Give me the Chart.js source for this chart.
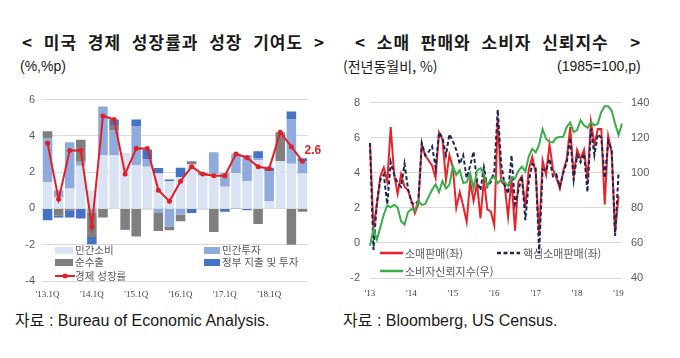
<!DOCTYPE html>
<html lang="ko">
<head>
<meta charset="utf-8">
<script src="https://cdn.jsdelivr.net/npm/chart.js@4.4.1/dist/chart.umd.min.js"></script>
<style>
  body { margin:0; width:680px; height:358px; background:#fff; position:relative; overflow:hidden;
         font-family:'Noto Sans CJK KR', sans-serif; color:#1a1a1a; }
  .abs { position:absolute; white-space:pre; }
  .title { font-size:17px; font-weight:bold; line-height:20px; letter-spacing:1px; word-spacing:5px; }
  .sub { font-size:14px; line-height:18px; }
  .src { font-size:16px; line-height:20px; font-family:'Liberation Sans','Noto Sans CJK KR',sans-serif; }
  .lg { font-size:10.5px; line-height:12px; color:#595959; }
  .sw { position:absolute; }
  canvas { position:absolute; }
</style>
</head>
<body>

<div class="abs title" style="left:22px;top:32px;">&lt; 미국 경제 성장률과 성장 기여도 &gt;</div>
<div class="abs sub" style="left:20px;top:57px;font-family:'Liberation Sans',sans-serif;">(%,%p)</div>

<div class="abs title" style="left:355px;top:32px;">&lt; 소매 판매와 소비자 신뢰지수  &gt;</div>
<div class="abs sub" style="left:343px;top:57px;">(전년동월비, %)</div>
<div class="abs sub" style="left:557px;top:57px;font-family:'Liberation Sans',sans-serif;">(1985=100,p)</div>

<canvas id="gdpChart" width="330" height="217" style="left:0;top:86px;"></canvas>
<canvas id="retailChart" width="320" height="214" style="left:335px;top:86px;"></canvas>

<!-- left legend -->
<div class="sw" style="left:55px;top:247px;width:18px;height:7px;background:#dae3f3;"></div>
<div class="abs lg" style="left:75px;top:244px;">민간소비</div>
<div class="sw" style="left:55px;top:259px;width:18px;height:7px;background:#7f7f7f;"></div>
<div class="abs lg" style="left:75px;top:256px;">순수출</div>
<svg class="sw" style="left:55px;top:271px;" width="20" height="10"><line x1="0" y1="5" x2="20" y2="5" stroke="#e31e24" stroke-width="2"/><circle cx="10" cy="5" r="2.5" fill="#e31e24"/></svg>
<div class="abs lg" style="left:75px;top:270px;">경제 성장률</div>
<div class="sw" style="left:204px;top:247px;width:16px;height:7px;background:#8faadc;"></div>
<div class="abs lg" style="left:222px;top:244px;">민간투자</div>
<div class="sw" style="left:204px;top:259px;width:16px;height:7px;background:#4472c4;"></div>
<div class="abs lg" style="left:222px;top:256px;">정부 지출 및 투자</div>

<!-- right legend -->
<svg class="sw" style="left:380px;top:248px;" width="24" height="10"><line x1="0" y1="5" x2="23" y2="5" stroke="#e8232a" stroke-width="2.5"/></svg>
<div class="abs lg" style="left:405px;top:247px;font-size:11px;">소매판매(좌)</div>
<svg class="sw" style="left:497px;top:248px;" width="24" height="10"><line x1="0" y1="5" x2="23" y2="5" stroke="#1b2656" stroke-width="2.5" stroke-dasharray="4,2.5"/></svg>
<div class="abs lg" style="left:523px;top:247px;font-size:11px;">핵심소매판매(좌)</div>
<svg class="sw" style="left:380px;top:266px;" width="24" height="10"><line x1="0" y1="5" x2="23" y2="5" stroke="#3aad4a" stroke-width="2.5"/></svg>
<div class="abs lg" style="left:405px;top:265px;font-size:11px;">소비자신뢰지수(우)</div>

<div class="abs src" style="left:15px;top:311px;">자료 : Bureau of Economic Analysis.</div>
<div class="abs src" style="left:343px;top:311px;">자료 : Bloomberg, US Census.</div>

<script>
// ---- left chart data (contribution to GDP growth, %p) ----
var quarters = ["'13.1Q","'13.2Q","'13.3Q","'13.4Q","'14.1Q","'14.2Q","'14.3Q","'14.4Q",
                "'15.1Q","'15.2Q","'15.3Q","'15.4Q","'16.1Q","'16.2Q","'16.3Q","'16.4Q",
                "'17.1Q","'17.2Q","'17.3Q","'17.4Q","'18.1Q","'18.2Q","'18.3Q","'18.4Q"];
var quarterTicks = ["'13.1Q","'14.1Q","'15.1Q","'16.1Q","'17.1Q","'18.1Q"];
var privateConsumption = [1.45, 0.6, 1.1, 2.35, 0.97, 2.95, 2.95, 3.05, 2.38, 2.3, 1.93, 1.5,
                          1.74, 2.42, 1.8, 1.9, 1.2, 1.96, 1.5, 2.65, 0.4, 2.6, 2.47, 1.93];
var privateInvestment  = [2.4, 0.4, 2.55, 0.22, -0.23, 2.67, 1.35, 0, 2.16, 0.4, -0.25, -1.0,
                          -0.35, 0, 0.1, 1.2, 0.76, 1.04, 1.45, 0.1, 1.62, -0.03, 2.43, 0.68];
var netExports         = [0.4, -0.4, -0.1, 1.22, -1.35, -0.5, 0.3, -1.13, -1.55, -0.05, -1.0, -0.2,
                          -0.35, 0.18, 0.05, -1.3, 0, 0.02, 0, -0.86, 0.03, 1.6, -2.0, -0.18];
var government         = [-0.65, -0.1, -0.4, -0.55, -0.4, 0, 0.3, -0.05, 0.36, 0.55, 0.3, 0.1,
                          0.5, -0.25, -0.05, 0, -0.18, -0.02, -0.1, 0.4, 0.2, 0, 0.45, 0.15];
var gdpGrowth          = [3.6, 0.5, 3.2, 3.2, -1.0, 5.1, 4.9, 1.9, 3.3, 3.3, 1.0, 0.4,
                          1.5, 2.3, 1.9, 1.8, 1.8, 3.0, 2.8, 2.3, 2.2, 4.2, 3.4, 2.6];

// ---- right chart data ----
var months = ['13.01','13.02','13.03','13.04','13.05','13.06','13.07','13.08','13.09','13.10','13.11','13.12',
              '14.01','14.02','14.03','14.04','14.05','14.06','14.07','14.08','14.09','14.10','14.11','14.12',
              '15.01','15.02','15.03','15.04','15.05','15.06','15.07','15.08','15.09','15.10','15.11','15.12',
              '16.01','16.02','16.03','16.04','16.05','16.06','16.07','16.08','16.09','16.10','16.11','16.12',
              '17.01','17.02','17.03','17.04','17.05','17.06','17.07','17.08','17.09','17.10','17.11','17.12',
              '18.01','18.02','18.03','18.04','18.05','18.06','18.07','18.08','18.09','18.10','18.11','18.12',
              '19.01','19.02'];
var yearTicks = ["'13","'14","'15","'16","'17","'18","'19"];
var retailSales = [5.7, 0.8, 2.2, 3.8, 4.3, 3.5, 6.6, 3.9, 2.8, 3.9, 3.2, 3.0,
                   2.4, 1.7, 2.2, 5.6, 5.0, 4.7, 4.4, 3.7, 6.3, 5.9, 3.6, 5.0,
                   4.3, 2.0, 2.9, 2.1, 1.2, 3.5, 2.4, 3.4, 1.4, 3.6, 1.9, 1.8,
                   1.0, 7.0, 3.5, 3.3, 1.5, 3.6, 0.7, 3.5, 3.8, 2.0, 4.2, 4.9,
                   4.0, 0.5, 4.7, 3.9, 5.6, 4.2, 3.7, 3.1, 4.1, 4.8, 6.6, 3.8,
                   5.3, 4.8, 5.3, 3.6, 6.9, 5.6, 6.5, 6.5, 2.2, 6.1, 5.2, 0.6,
                   2.7];
var coreRetailSales = [5.7, -0.4, 2.3, 3.6, 3.9, 2.2, 4.6, 3.9, 3.4, 3.2, 4.5, 3.1,
                       2.3, 2.2, 2.4, 5.7, 5.0, 5.2, 5.5, 4.3, 6.3, 6.0, 5.0, 6.2,
                       5.8, 5.3, 4.5, 5.0, 3.7, 4.4, 5.2, 3.5, 3.0, 4.3, 3.2, 3.5,
                       4.1, 7.6, 4.5, 3.3, 2.8, 5.0, 2.2, 3.0, 3.8, 1.3, 3.5, 4.5,
                       4.3, -0.6, 4.2, 4.1, 4.8, 3.8, 3.9, 3.2, 4.0, 4.6, 6.0, 3.6,
                       5.0, 4.6, 5.1, 2.9, 6.5, 5.0, 6.2, 6.0, 3.7, 5.8, 5.3, 0.4,
                       4.0];
var consumerConfidence = [58.4, 68.0, 61.9, 69.0, 76.2, 81.4, 80.3, 81.8, 80.2, 72.4, 70.4, 77.5,
                          79.4, 78.3, 83.9, 81.7, 82.2, 86.4, 90.3, 93.4, 89.0, 95.3, 91.0, 93.1,
                          103.8, 98.8, 101.4, 94.3, 94.6, 99.8, 91.0, 101.3, 102.6, 99.1, 92.6, 96.5,
                          97.8, 94.0, 96.1, 94.7, 92.4, 97.4, 96.7, 101.1, 103.5, 100.8, 109.4, 113.7,
                          111.6, 116.1, 124.9, 119.4, 117.6, 117.3, 120.0, 120.4, 120.6, 126.2, 128.6, 123.1,
                          124.3, 130.0, 127.0, 125.6, 128.8, 127.1, 127.9, 134.7, 137.9, 137.9, 135.5, 128.0,
                          121.5, 128.0];

var tickFont = { family: "'Liberation Sans', sans-serif", size: 11 };
var xFont = { family: "'Liberation Serif', serif", size: 9 };
var gridColor = '#d9d9d9';

// label "2.6" next to the last growth point
var lastLabel = {
    id: 'lastLabel',
    afterDatasetsDraw: function(chart) {
        var meta = chart.getDatasetMeta(0);
        var pt = meta.data[meta.data.length - 1];
        var ctx = chart.ctx;
        ctx.save();
        ctx.font = "bold 12px 'Liberation Sans', sans-serif";
        ctx.fillStyle = '#e31e24';
        ctx.textAlign = 'left';
        ctx.textBaseline = 'middle';
        ctx.fillText(gdpGrowth[gdpGrowth.length - 1].toFixed(1), pt.x + 2, pt.y - 11);
        ctx.restore();
    }
};

new Chart(document.getElementById('gdpChart'), {
    data: {
        labels: quarters,
        datasets: [{
            type: 'line', label: '경제 성장률', data: gdpGrowth, stack: 'gdp',
            borderColor: '#e31e24', backgroundColor: '#e31e24', borderWidth: 2,
            pointRadius: 2.5, pointBackgroundColor: '#e31e24', pointBorderWidth: 0, order: 0
        }, {
            type: 'bar', label: '민간소비', data: privateConsumption, stack: 'c',
            backgroundColor: '#dae3f3', order: 1
        }, {
            type: 'bar', label: '민간투자', data: privateInvestment, stack: 'c',
            backgroundColor: '#8faadc', order: 1
        }, {
            type: 'bar', label: '순수출', data: netExports, stack: 'c',
            backgroundColor: '#7f7f7f', order: 1
        }, {
            type: 'bar', label: '정부 지출 및 투자', data: government, stack: 'c',
            backgroundColor: '#4472c4', order: 1
        }]
    },
    options: {
        responsive: false,
        animation: false,
        datasets: { bar: { barPercentage: 0.86, categoryPercentage: 1 } },
        layout: { padding: { top: 10, right: 22, left: 0, bottom: 0 } },
        plugins: { legend: { display: false }, tooltip: { enabled: false } },
        scales: {
            x: {
                stacked: true,
                grid: { display: false, drawTicks: false },
                border: { display: false },
                afterFit: function(s) { s.height = 22; },
                ticks: {
                    autoSkip: false, maxRotation: 0, padding: 8, font: xFont, color: '#404040',
                    callback: function(v, i) {
                        return quarterTicks.indexOf(quarters[i]) >= 0 ? quarters[i] : '';
                    }
                }
            },
            y: {
                stacked: true, min: -4, max: 6,
                grid: { color: gridColor, drawTicks: false },
                border: { display: false },
                afterFit: function(s) { s.width = 42; },
                ticks: { stepSize: 2, padding: 7, font: tickFont, color: '#595959' }
            }
        }
    },
    plugins: [lastLabel]
});

new Chart(document.getElementById('retailChart'), {
    type: 'line',
    data: {
        labels: months,
        datasets: [{
            label: '소매판매(좌)', data: retailSales, yAxisID: 'y',
            borderColor: '#e8232a', borderWidth: 2, pointRadius: 0, order: 2
        }, {
            label: '핵심소매판매(좌)', data: coreRetailSales, yAxisID: 'y',
            borderColor: '#1b2656', borderWidth: 2, borderDash: [4, 2.5], pointRadius: 0, order: 1
        }, {
            label: '소비자신뢰지수(우)', data: consumerConfidence, yAxisID: 'y1',
            borderColor: '#3aad4a', borderWidth: 2, pointRadius: 0, order: 0
        }]
    },
    options: {
        responsive: false,
        animation: false,
        layout: { padding: { top: 10, right: 0, left: 0, bottom: 0 } },
        plugins: { legend: { display: false }, tooltip: { enabled: false } },
        scales: {
            x: {
                grid: { display: false, drawTicks: false },
                border: { display: false },
                afterFit: function(s) { s.height = 22; },
                ticks: {
                    autoSkip: false, maxRotation: 0, padding: 10, font: xFont, color: '#404040',
                    callback: function(v, i) {
                        var m = months[i];
                        return m.slice(3) === '01' ? yearTicks[yearTicks.indexOf("'" + m.slice(0, 2))] : '';
                    }
                }
            },
            y: {
                position: 'left', min: -2, max: 8,
                grid: { color: gridColor, drawTicks: false },
                border: { display: false },
                afterFit: function(s) { s.width = 35; },
                ticks: { stepSize: 2, padding: 10, font: tickFont, color: '#595959' }
            },
            y1: {
                position: 'right', min: 40, max: 140,
                grid: { display: false, drawTicks: false },
                border: { display: false },
                afterFit: function(s) { s.width = 33; },
                ticks: { stepSize: 20, padding: 9, font: tickFont, color: '#595959' }
            }
        }
    }
});
</script>
</body>
</html>
